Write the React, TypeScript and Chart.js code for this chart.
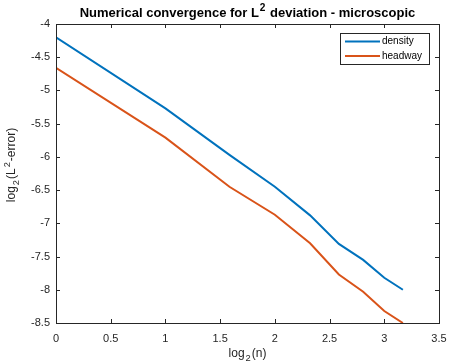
import React, { useEffect, useRef } from "react";
import { Chart, registerables } from "chart.js";

Chart.register(...registerables);

const xValues = [0, 1, 1.585, 2, 2.322, 2.585, 2.807, 3, 3.17];
const densityValues = [-4.2, -5.27, -5.97, -6.45, -6.88, -7.31, -7.55, -7.82, -8.0];
const headwayValues = [-4.66, -5.71, -6.45, -6.87, -7.3, -7.77, -8.03, -8.32, -8.5];
const seriesLabels = ["density", "headway"];
const seriesColors = ["#0072BD", "#D95319"];
const xTicks = [0, 0.5, 1, 1.5, 2, 2.5, 3, 3.5];
const yTicks = [-4, -4.5, -5, -5.5, -6, -6.5, -7, -7.5, -8, -8.5];

const FONT = "'Liberation Sans', Arial, Helvetica, sans-serif";
const AXC = "#262626";

type Seg = { t: string; k?: "sup" | "sub" };

const SCR = 0.78;
const GAP = 1;

function segWidth(ctx: CanvasRenderingContext2D, segs: Seg[], size: number, bold: boolean) {
  let w = 0;
  for (const s of segs) {
    const sz = s.k ? size * SCR : size;
    ctx.font = `${bold ? "bold " : ""}${sz}px ${FONT}`;
    w += ctx.measureText(s.t).width + (s.k ? 2 * GAP : 0);
  }
  return w;
}

function drawSegs(ctx: CanvasRenderingContext2D, segs: Seg[], x: number, y: number, size: number, bold: boolean) {
  let cx = x;
  ctx.textBaseline = "alphabetic";
  ctx.textAlign = "left";
  for (const s of segs) {
    const sz = s.k ? size * SCR : size;
    ctx.font = `${bold ? "bold " : ""}${sz}px ${FONT}`;
    const dy = s.k === "sup" ? -size * 0.45 : s.k === "sub" ? size * 0.32 : 0;
    if (s.k) cx += GAP;
    ctx.fillText(s.t, cx, y + dy);
    cx += ctx.measureText(s.t).width + (s.k ? GAP : 0);
  }
}

const matlabPlugin = {
  id: "matlabAxes",
  afterDraw(chart: any) {
    const ctx: CanvasRenderingContext2D = chart.ctx;
    const a = chart.chartArea;
    const xs = chart.scales.x;
    const ys = chart.scales.y;
    ctx.save();
    ctx.strokeStyle = AXC;
    ctx.lineWidth = 1;
    ctx.strokeRect(Math.round(a.left) + 0.5, Math.round(a.top) + 0.5, Math.round(a.right - a.left), Math.round(a.bottom - a.top));
    const tl = 4;
    ctx.beginPath();
    for (const v of xTicks) {
      const px = Math.round(xs.getPixelForValue(v)) + 0.5;
      ctx.moveTo(px, a.bottom);
      ctx.lineTo(px, a.bottom - tl);
      ctx.moveTo(px, a.top);
      ctx.lineTo(px, a.top + tl);
    }
    for (const v of yTicks) {
      const py = Math.round(ys.getPixelForValue(v)) + 0.5;
      ctx.moveTo(a.left, py);
      ctx.lineTo(a.left + tl, py);
      ctx.moveTo(a.right, py);
      ctx.lineTo(a.right - tl, py);
    }
    ctx.stroke();

    ctx.fillStyle = "#000";
    const title: Seg[] = [
      { t: "Numerical convergence for L" },
      { t: "2", k: "sup" },
      { t: " deviation - microscopic" },
    ];
    const tw = segWidth(ctx, title, 13, true);
    drawSegs(ctx, title, (a.left + a.right) / 2 - tw / 2, 17, 13, true);

    ctx.fillStyle = AXC;
    const xl: Seg[] = [{ t: "log" }, { t: "2", k: "sub" }, { t: "(n)" }];
    const xw = segWidth(ctx, xl, 12, false);
    drawSegs(ctx, xl, (a.left + a.right) / 2 - xw / 2, 357, 12, false);

    const yl: Seg[] = [{ t: "log" }, { t: "2", k: "sub" }, { t: "(L" }, { t: "2", k: "sup" }, { t: "-error)" }];
    const yw = segWidth(ctx, yl, 12, false);
    ctx.save();
    ctx.translate(15, 165);
    ctx.rotate(-Math.PI / 2);
    drawSegs(ctx, yl, -yw / 2, 0, 12, false);
    ctx.restore();

    const lx = 340, ly = 33, lw = 89, lh = 31;
    ctx.fillStyle = "#fff";
    ctx.fillRect(lx, ly, lw, lh);
    ctx.strokeStyle = AXC;
    ctx.lineWidth = 1;
    ctx.strokeRect(lx + 0.5, ly + 0.5, lw, lh);
    chart.data.datasets.forEach((ds: any, i: number) => {
      const yy = ly + 8.5 + i * 14.5;
      ctx.strokeStyle = ds.borderColor;
      ctx.lineWidth = 2;
      ctx.beginPath();
      ctx.moveTo(lx + 5, yy);
      ctx.lineTo(lx + 40, yy);
      ctx.stroke();
      ctx.fillStyle = "#000";
      ctx.font = `10px ${FONT}`;
      ctx.textBaseline = "middle";
      ctx.textAlign = "left";
      ctx.fillText(ds.label, lx + 42, yy);
    });
    ctx.restore();
  },
};

export default function App() {
  const ref = useRef<HTMLCanvasElement | null>(null);
  useEffect(() => {
    document.body.style.margin = "0";
    if (!ref.current) return;
    const chart = new Chart(ref.current, {
      type: "line",
      data: {
        datasets: [densityValues, headwayValues].map((vals, i) => ({
          label: seriesLabels[i],
          data: vals.map((v, j) => ({ x: xValues[j], y: v })),
          borderColor: seriesColors[i],
          backgroundColor: seriesColors[i],
          borderWidth: 2,
          pointRadius: 0,
          tension: 0,
          fill: false,
        })),
      },
      options: {
        animation: false,
        responsive: false,
        layout: { padding: { top: 24, right: 10, left: 0, bottom: 0 } },
        plugins: { legend: { display: false }, title: { display: false }, tooltip: { enabled: false } },
        scales: {
          x: {
            type: "linear",
            min: 0,
            max: 3.5,
            afterBuildTicks: (s: any) => { s.ticks = xTicks.map((v) => ({ value: v })); },
            afterFit: (s: any) => { s.height = 41; s.paddingLeft = 0; s.paddingRight = 0; },
            grid: { display: false, drawTicks: false, tickLength: 0 },
            border: { display: false },
            ticks: { font: { size: 11, family: FONT }, color: AXC, padding: 9, maxRotation: 0, callback: (v: any) => String(v) },
          },
          y: {
            type: "linear",
            min: -8.5,
            max: -4,
            afterBuildTicks: (s: any) => { s.ticks = yTicks.map((v) => ({ value: v })); },
            afterFit: (s: any) => { s.width = 56; s.paddingTop = 0; s.paddingBottom = 0; },
            grid: { display: false, drawTicks: false, tickLength: 0 },
            border: { display: false },
            ticks: { font: { size: 11, family: FONT }, color: AXC, padding: 6, callback: (v: any) => String(v) },
          },
        },
      },
      plugins: [matlabPlugin],
    });
    return () => chart.destroy();
  }, []);
  return <canvas ref={ref} width={449} height={364} />;
}
